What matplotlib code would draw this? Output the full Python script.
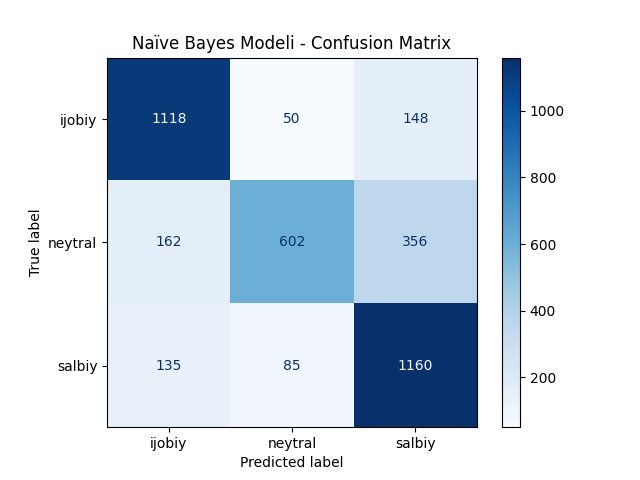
import numpy as np
import matplotlib
matplotlib.use("Agg")
import matplotlib.pyplot as plt

labels = ["ijobiy", "neytral", "salbiy"]
cm = np.array([
    [1118, 50, 148],
    [162, 602, 356],
    [135, 85, 1160],
])

fig, ax = plt.subplots(figsize=(6.4, 4.8), dpi=100)
cmap = plt.get_cmap("Blues")
im = ax.imshow(cm, interpolation="nearest", cmap=cmap)

# text colour like sklearn's ConfusionMatrixDisplay
thresh = (cm.max() + cm.min()) / 2.0
for i in range(cm.shape[0]):
    for j in range(cm.shape[1]):
        color = cmap(1.0) if cm[i, j] < thresh else cmap(0.0)
        ax.text(j, i, format(cm[i, j], "d"), ha="center", va="center", color=color)

fig.colorbar(im, ax=ax)
ax.set(xticks=np.arange(len(labels)), yticks=np.arange(len(labels)),
       xticklabels=labels, yticklabels=labels,
       xlabel="Predicted label", ylabel="True label")
ax.set_ylim((len(labels) - 0.5, -0.5))
ax.set_title("Naïve Bayes Modeli - Confusion Matrix")

fig.savefig("out.png")
